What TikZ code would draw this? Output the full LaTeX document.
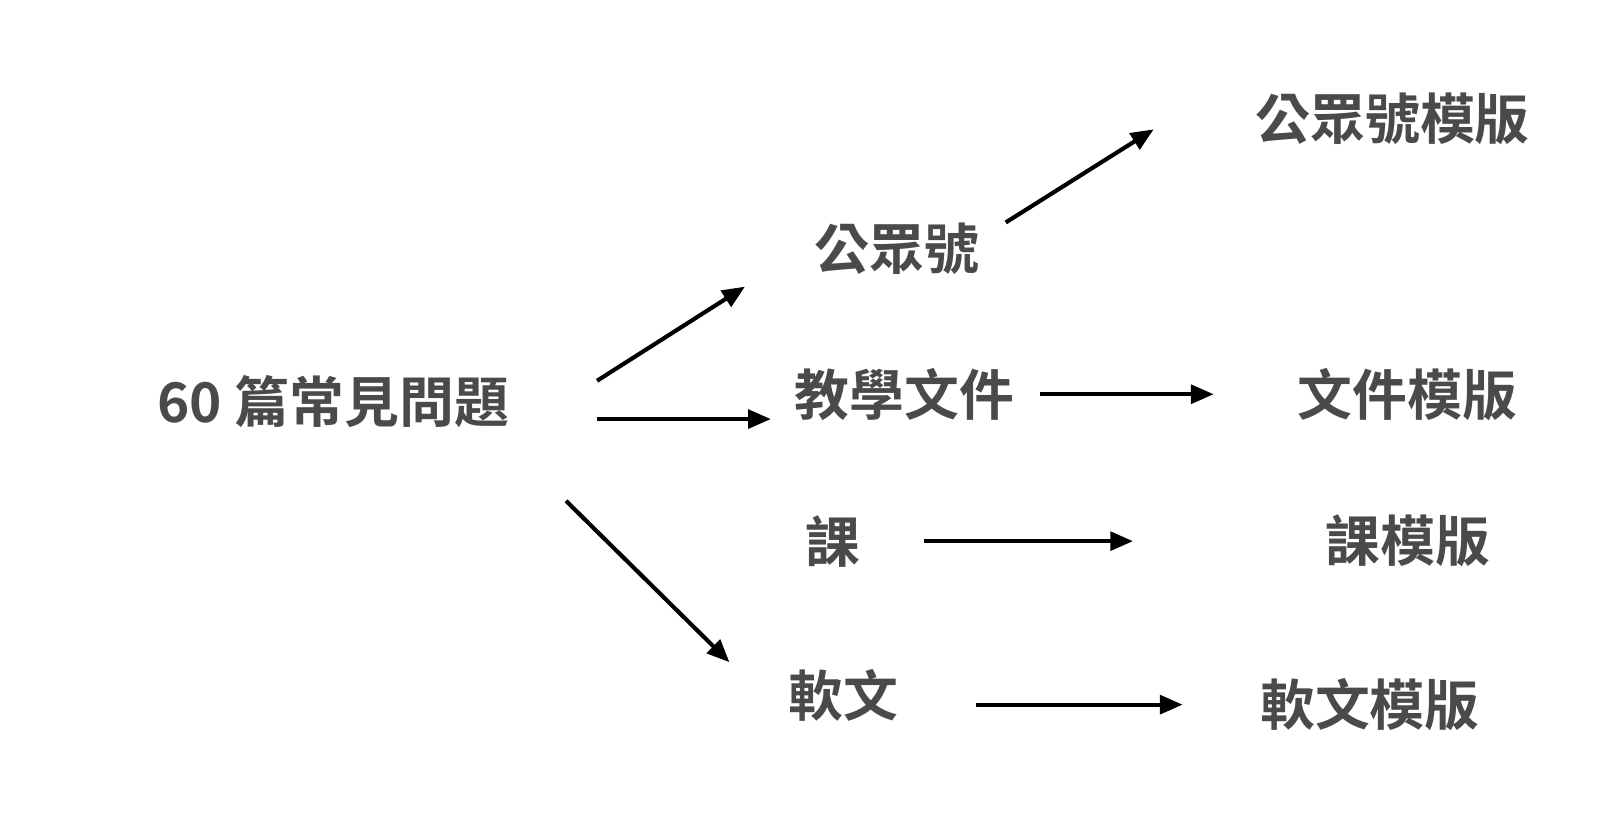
\documentclass[tikz,border=0pt]{standalone}
\usepackage{fontspec}
\setmainfont{Noto Sans CJK TC}[BoldFont={Noto Sans CJK TC Bold}]
\usetikzlibrary{arrows.meta}
\definecolor{txt}{HTML}{4A4A4A}
\begin{document}
\begin{tikzpicture}[x=0.5pt,y=-0.5pt,
  lbl/.style={text=txt,font=\fontsize{26.5}{30}\selectfont\bfseries,inner sep=0},
  arr/.style={line width=2pt,-{Triangle[length=11pt,width=9pt]}}]
\useasboundingbox (0,0) rectangle (1556,811);
\node[lbl] (root) at (322,388) {60 篇常見問題};
\node[lbl] (a) at (867,240) {公眾號};
\node[lbl] (b) at (874,381) {教學文件};
\node[lbl] (c) at (805,523) {課};
\node[lbl] (d) at (815,672) {軟文};
\node[lbl] (a2) at (1346,115) {公眾號模版};
\node[lbl] (b2) at (1360,381) {文件模版};
\node[lbl] (c2) at (1361,523) {課模版};
\node[lbl] (d2) at (1324,681) {軟文模版};
\coordinate (r1) at (577,368); \coordinate (e1) at (720,277);
\coordinate (r2) at (577,405); \coordinate (e2) at (745,405);
\coordinate (r3) at (547,484); \coordinate (e3) at (705,640);
\coordinate (s1) at (972,215); \coordinate (t1) at (1115,125);
\coordinate (s2) at (1005,381); \coordinate (t2) at (1173,381);
\coordinate (s3) at (893,523); \coordinate (t3) at (1095,523);
\coordinate (s4) at (943,681); \coordinate (t4) at (1143,681);
\draw[arr] (r1) -- (e1);
\draw[arr] (r2) -- (e2);
\draw[arr] (r3) -- (e3);
\draw[arr] (s1) -- (t1);
\draw[arr] (s2) -- (t2);
\draw[arr] (s3) -- (t3);
\draw[arr] (s4) -- (t4);
\end{tikzpicture}
\end{document}
